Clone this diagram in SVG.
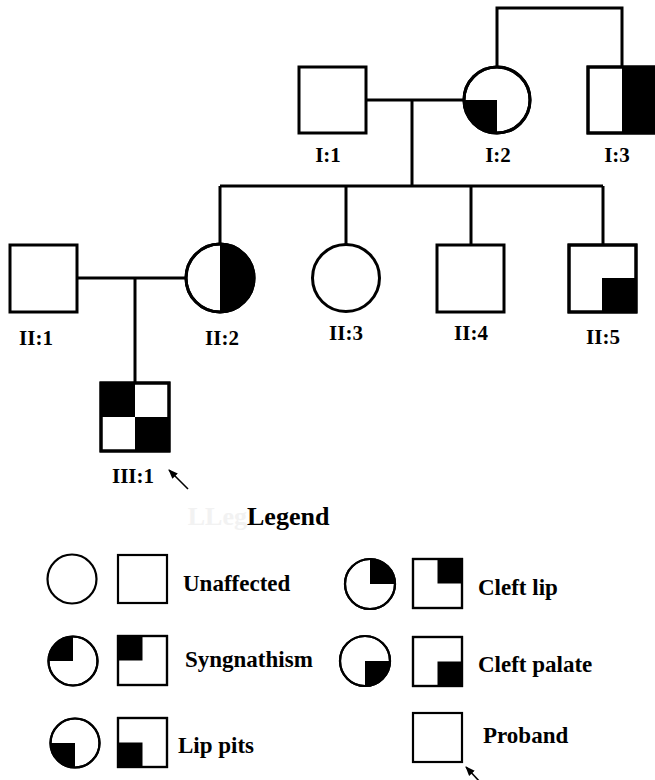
<svg xmlns="http://www.w3.org/2000/svg" width="655" height="780" viewBox="0 0 655 780">
<style>
.sh{fill:#fff;stroke:#000;stroke-width:3}
.ol{fill:none;stroke:#000;stroke-width:3}
.lg{fill:#fff;stroke:#000;stroke-width:2.2}
.lgo{fill:none;stroke:#000;stroke-width:2.2}
.bk{fill:#000;stroke:none}
.ln{fill:none;stroke:#000;stroke-width:3}
.lab{font-family:"Liberation Serif","Times New Roman",serif;font-weight:bold;font-size:21px;fill:#000;text-anchor:middle}
.lt{font-family:"Liberation Serif","Times New Roman",serif;font-weight:bold;font-size:23px;fill:#000}
.ar{fill:none;stroke:#000;stroke-width:1.6}
</style>
<defs>
<marker id="ah" viewBox="0 0 10 10" refX="9" refY="5" markerWidth="6" markerHeight="6" orient="auto">
<path d="M0 1 L10 5 L0 9 Z" fill="#000"/>
</marker>
</defs>
<rect width="655" height="780" fill="#fff"/>
<g id="connectors">
<path class="ln" d="M497 67 V8 H622 V67"/>
<path class="ln" d="M366 100 H464"/>
<path class="ln" d="M412 100 V186"/>
<path class="ln" d="M220 186 H603"/>
<path class="ln" d="M220 186 V244"/>
<path class="ln" d="M346 186 V244"/>
<path class="ln" d="M471 186 V245"/>
<path class="ln" d="M603 186 V245"/>
<path class="ln" d="M77 278 H186"/>
<path class="ln" d="M135 278 V383"/>
</g>
<g id="I1">
<rect class="sh" x="299" y="67" width="67" height="66"/>
<text class="lab" x="328" y="162">I:1</text>
</g>
<g id="I2">
<circle class="sh" cx="497" cy="100" r="33"/>
<path class="bk" d="M497 100 L464 100 A33 33 0 0 0 497 133 Z"/>
<circle class="ol" cx="497" cy="100" r="33"/>
<text class="lab" x="498" y="162">I:2</text>
</g>
<g id="I3">
<rect class="sh" x="588" y="67" width="66" height="66"/>
<rect class="bk" x="622" y="67" width="33" height="66"/>
<rect class="ol" x="588" y="67" width="66" height="66"/>
<text class="lab" x="617" y="162">I:3</text>
</g>
<g id="II1">
<rect class="sh" x="10" y="245" width="67" height="67"/>
<text class="lab" x="36" y="345">II:1</text>
</g>
<g id="II2">
<circle class="sh" cx="220" cy="278" r="34"/>
<path class="bk" d="M220 244 A34 34 0 0 1 220 312 Z"/>
<circle class="ol" cx="220" cy="278" r="34"/>
<text class="lab" x="222" y="345">II:2</text>
</g>
<g id="II3">
<circle class="sh" cx="346" cy="278" r="33.5"/>
<text class="lab" x="346" y="340">II:3</text>
</g>
<g id="II4">
<rect class="sh" x="437" y="245" width="67" height="67"/>
<text class="lab" x="471" y="340">II:4</text>
</g>
<g id="II5">
<rect class="sh" x="569" y="245" width="67" height="67"/>
<rect class="bk" x="602" y="278" width="34" height="34"/>
<rect class="ol" x="569" y="245" width="67" height="67"/>
<text class="lab" x="603" y="344">II:5</text>
</g>
<g id="III1">
<rect class="sh" x="101" y="383" width="68" height="68"/>
<rect class="bk" x="101" y="383" width="34" height="34"/>
<rect class="bk" x="135" y="417" width="34" height="34"/>
<rect class="ol" x="101" y="383" width="68" height="68"/>
<text class="lab" x="133" y="483">III:1</text>
<line class="ar" x1="188" y1="489" x2="169" y2="470" marker-end="url(#ah)"/>
</g>
<g id="legend">
<text x="247" y="525" text-anchor="end" style="font-family:'Liberation Serif',serif;font-weight:bold;font-size:26px;fill:#f2f2f2">LLeg</text>
<text x="247" y="525" style="font-family:'Liberation Serif',serif;font-weight:bold;font-size:26px;fill:#000">Legend</text>
</g>
<g id="leg-unaffected">
<circle class="lg" cx="72" cy="579" r="24.5"/>
<rect class="lg" x="118" y="555" width="49" height="48"/>
<text class="lt" x="183" y="591">Unaffected</text>
</g>
<g id="leg-syngnathism">
<circle class="lg" cx="73" cy="661" r="24.5"/>
<path class="bk" d="M73 661 L73 636.5 A24.5 24.5 0 0 0 48.5 661 Z"/>
<circle class="lgo" cx="73" cy="661" r="24.5"/>
<rect class="lg" x="118" y="636" width="49" height="49"/>
<rect class="bk" x="118" y="636" width="24.5" height="24.5"/>
<rect class="lgo" x="118" y="636" width="49" height="49"/>
<text class="lt" x="185" y="667">Syngnathism</text>
</g>
<g id="leg-lippits">
<circle class="lg" cx="75" cy="743" r="24.5"/>
<path class="bk" d="M75 743 L50.5 743 A24.5 24.5 0 0 0 75 767.5 Z"/>
<circle class="lgo" cx="75" cy="743" r="24.5"/>
<rect class="lg" x="118" y="718" width="49" height="49"/>
<rect class="bk" x="118" y="742.5" width="24.5" height="24.5"/>
<rect class="lgo" x="118" y="718" width="49" height="49"/>
<text class="lt" x="178" y="753">Lip pits</text>
</g>
<g id="leg-cleftlip">
<circle class="lg" cx="370" cy="584" r="25"/>
<path class="bk" d="M370 584 L370 559 A25 25 0 0 1 395 584 Z"/>
<circle class="lgo" cx="370" cy="584" r="25"/>
<rect class="lg" x="413" y="559" width="49" height="49"/>
<rect class="bk" x="437.5" y="559" width="24.5" height="24.5"/>
<rect class="lgo" x="413" y="559" width="49" height="49"/>
<text class="lt" x="478" y="595">Cleft lip</text>
</g>
<g id="leg-cleftpalate">
<circle class="lg" cx="365" cy="661" r="25"/>
<path class="bk" d="M365 661 L390 661 A25 25 0 0 1 365 686 Z"/>
<circle class="lgo" cx="365" cy="661" r="25"/>
<rect class="lg" x="413" y="637" width="49" height="49"/>
<rect class="bk" x="437.5" y="661.5" width="24.5" height="24.5"/>
<rect class="lgo" x="413" y="637" width="49" height="49"/>
<text class="lt" x="478" y="672">Cleft palate</text>
</g>
<g id="leg-proband">
<rect class="lg" x="413" y="713" width="49" height="49"/>
<text class="lt" x="483" y="743">Proband</text>
<line class="ar" x1="481" y1="783" x2="466" y2="767" marker-end="url(#ah)"/>
</g>
</svg>
